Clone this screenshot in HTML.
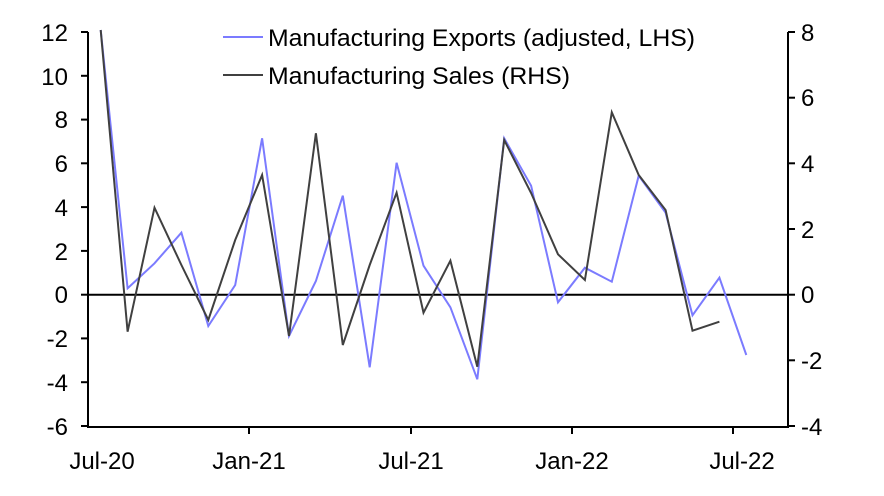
<!DOCTYPE html>
<html><head><meta charset="utf-8"><style>
body{margin:0;background:#fff;}
svg text{font-family:"Liberation Sans",Arial,sans-serif;font-size:24px;fill:#000;}
</style></head><body>
<svg width="884" height="491" viewBox="0 0 884 491" xmlns="http://www.w3.org/2000/svg">
<g stroke="#000" stroke-width="2">
<line x1="88" y1="32" x2="88" y2="427"/>
<line x1="788" y1="32" x2="788" y2="427"/>
<line x1="87" y1="427" x2="789" y2="427"/>
<line x1="88" y1="294.7" x2="788" y2="294.7"/>
<line x1="81" y1="32" x2="88" y2="32"/><line x1="81" y1="75.8" x2="88" y2="75.8"/><line x1="81" y1="119.6" x2="88" y2="119.6"/><line x1="81" y1="163.3" x2="88" y2="163.3"/><line x1="81" y1="207.1" x2="88" y2="207.1"/><line x1="81" y1="250.9" x2="88" y2="250.9"/><line x1="81" y1="294.7" x2="88" y2="294.7"/><line x1="81" y1="338.4" x2="88" y2="338.4"/><line x1="81" y1="382.2" x2="88" y2="382.2"/><line x1="81" y1="426" x2="88" y2="426"/>
<line x1="788" y1="32" x2="795" y2="32"/><line x1="788" y1="97.7" x2="795" y2="97.7"/><line x1="788" y1="163.3" x2="795" y2="163.3"/><line x1="788" y1="229" x2="795" y2="229"/><line x1="788" y1="294.7" x2="795" y2="294.7"/><line x1="788" y1="360.3" x2="795" y2="360.3"/><line x1="788" y1="426" x2="795" y2="426"/>
<line x1="249" y1="427" x2="249" y2="434"/><line x1="411" y1="427" x2="411" y2="434"/><line x1="572" y1="427" x2="572" y2="434"/><line x1="733" y1="427" x2="733" y2="434"/>
</g>
<g text-anchor="end">
<text x="68" y="41">12</text><text x="68" y="85">10</text><text x="68" y="128">8</text><text x="68" y="172">6</text><text x="68" y="216">4</text><text x="68" y="260">2</text><text x="68" y="303">0</text><text x="68" y="347">-2</text><text x="68" y="391">-4</text><text x="68" y="435">-6</text>
</g>
<g>
<text x="801" y="41">8</text><text x="801" y="106">6</text><text x="801" y="172">4</text><text x="801" y="238">2</text><text x="801" y="303">0</text><text x="801" y="369">-2</text><text x="801" y="435">-4</text>
</g>
<g text-anchor="middle">
<text x="102" y="469">Jul-20</text><text x="249" y="469">Jan-21</text><text x="411" y="469">Jul-21</text><text x="572" y="469">Jan-22</text><text x="742" y="469">Jul-22</text>
</g>
<polyline fill="none" stroke="#7b7bff" stroke-width="2" points="100.7,30 127.6,288.3 154.5,263.3 181.4,232.7 208.3,326 235.2,285 262.1,138.3 289,336 315.9,281 342.8,195.7 369.7,367.3 396.6,162.7 423.5,265.7 450.4,307.3 477.3,379.3 504.2,138.3 531.1,185.7 558,302.3 584.9,267.7 611.8,281.7 638.7,175.7 665.6,212.7 692.5,315.3 719.4,277.7 746.3,355"/>
<polyline fill="none" stroke="#404040" stroke-width="2" points="100.7,30 127.6,331.7 154.5,207.7 181.4,265 208.3,320 235.2,240 262.1,175 289,336 315.9,133.3 342.8,345 369.7,265 396.6,192.7 423.5,312.7 450.4,260.7 477.3,366.7 504.2,140 531.1,193 558,254.3 584.9,280 611.8,112.3 638.7,175 665.6,210 692.5,330.7 719.4,321.7"/>
<line x1="223" y1="37" x2="263" y2="37" stroke="#7b7bff" stroke-width="2"/>
<line x1="223" y1="75" x2="263" y2="75" stroke="#404040" stroke-width="2"/>
<text x="268" y="46" textLength="427" lengthAdjust="spacingAndGlyphs">Manufacturing Exports (adjusted, LHS)</text>
<text x="268" y="84" textLength="302" lengthAdjust="spacingAndGlyphs">Manufacturing Sales (RHS)</text>
</svg>
</body></html>
